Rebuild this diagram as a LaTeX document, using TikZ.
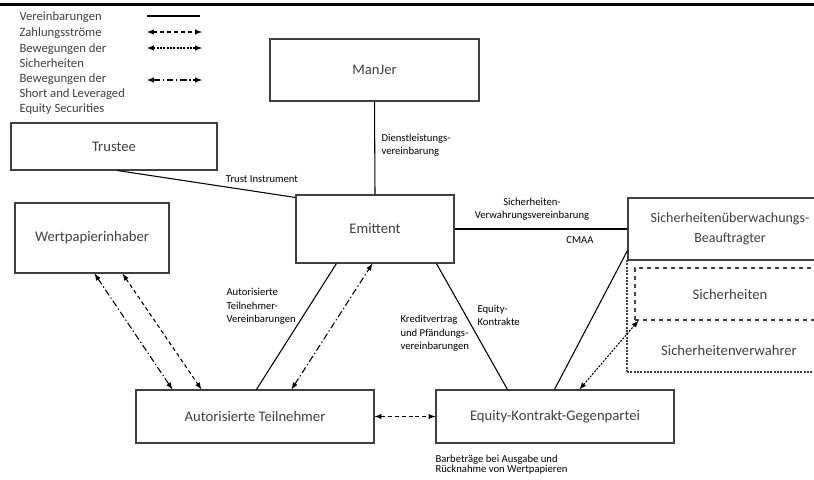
\documentclass[tikz,border=0pt]{standalone}
\usepackage{fontspec}
\setmainfont{Carlito}
\usetikzlibrary{calc}

\begin{document}
\begin{tikzpicture}[x=0.75pt,y=-0.75pt,line width=0.8pt,>=latex,
  partei/.style={draw=black!75,rectangle,inner sep=2pt,text=black!75,align=center,font=\fontsize{11}{15}\selectfont},
  lbl/.style={inner sep=0pt,align=left,font=\fontsize{8}{10}\selectfont},
  legtext/.style={inner sep=0pt,align=left,anchor=west,text=black!75,font=\fontsize{9.5}{11.25}\selectfont},
  zahlung/.style={<->,dash pattern=on 3pt off 2.2pt},
  sicher/.style={<->,dash pattern=on 1.5pt off 1pt},
  wertp/.style={<->,dash pattern=on 5pt off 2pt on 1pt off 2pt}]
\clip (0,0) rectangle (814,479);
\draw [line width=2pt] (0,4.5) to (814,4.5);

% legend
\node [legtext] (leg1) at (19,17) {Vereinbarungen};
\node [legtext] (leg2) at (19,33) {Zahlungsströme};
\node [legtext] (leg3) at (19,56) {Bewegungen der\\Sicherheiten};
\node [legtext] (leg4) at (19,94.5) {Bewegungen der\\Short and Leveraged\\Equity Securities};
\draw (147,16) to (200,16);
\draw [zahlung] (147,32) to (202,32);
\draw [sicher] (147,48) to (202,48);
\draw [wertp] (147,80) to (202,80);

% parties
\node [partei,minimum width=156.75pt,minimum height=46.5pt] (manjer) at (374.5,70) {ManJer};
\node [partei,minimum width=154.5pt,minimum height=35.25pt] (trustee) at (114,146.5) {Trustee};
\node [partei,minimum width=118.5pt,minimum height=51pt] (emit) at (375,229) {Emittent};
\node [partei,minimum width=115.5pt,minimum height=52.5pt] (wert) at (92,238) {Wertpapierinhaber};
\node [partei,minimum width=153pt,minimum height=46.5pt,font=\fontsize{10.5}{15}\selectfont] (sich) at (730,229) {Sicherheitenüberwachungs-\\Beauftragter};
\node [partei,minimum width=178.5pt,minimum height=39.75pt] (at) at (255,416.5) {Autorisierte Teilnehmer};
\node [partei,minimum width=178.5pt,minimum height=39.75pt] (equity) at (555,416.5) {Equity-Kontrakt-Gegenpartei};
\node [partei,dash pattern=on 1.5pt off 1pt,minimum width=153pt,minimum height=84pt] (verwahr) at (729,316) {};
\node [text=black!75,font=\fontsize{11}{15}\selectfont] (verwahrtxt) at (729,350) {Sicherheitenverwahrer};
\node [partei,dashed,minimum width=142.5pt,minimum height=39pt] (sicherh) at (730,294) {Sicherheiten};

% agreements
\draw (manjer.south) to (emit.north);
\draw ($(trustee.south west)+(107,0)$) to ($(emit.north west)+(0,3)$);
\draw (emit.east) to (sich.west);
\draw ($(emit.south west)+(41,0)$) to ($(at.north west)+(121,0)$);
\draw ($(emit.south west)+(141,0)$) to ($(equity.north west)+(72,0)$);
\draw ($(sich.south west)+(0,-10)$) to ($(equity.north west)+(119,0)$);

% movements
\draw [wertp] ($(at.north west)+(156,0)$) to ($(emit.south west)+(77,0)$);
\draw [wertp] ($(wert.south west)+(80,0)$) to ($(at.north west)+(37,0)$);
\draw [zahlung] ($(wert.south west)+(108,0)$) to ($(at.north west)+(66,0)$);
\draw [zahlung] (at.east) to (equity.west);
\draw [sicher] ($(equity.north west)+(144,0)$) to ($(sicherh.south west)+(4,0)$);

% labels
\node [lbl,anchor=west] (dienst) at (381,145) {Dienstleistungs-\\vereinbarung};
\node [lbl] (trustinst) at (262,179) {Trust Instrument};
\node [lbl,align=center] (verwahrv) at (532,209.5) {Sicherheiten-\\Verwahrungsvereinbarung};
\node [lbl] (cmaa) at (580,240) {CMAA};
\node [lbl,anchor=west] (atv) at (226,306.5) {Autorisierte\\Teilnehmer-\\Vereinbarungen};
\node [lbl,anchor=west] (kredit) at (400,333.5) {Kreditvertrag\\und Pfändungs-\\vereinbarungen};
\node [lbl,anchor=west] (ekontr) at (477,315.5) {Equity-\\Kontrakte};
\node [lbl,anchor=west,font=\fontsize{8}{7.5}\selectfont] (barb) at (435,465) {Barbeträge bei Ausgabe und\\Rücknahme von Wertpapieren};
\end{tikzpicture}
\end{document}
